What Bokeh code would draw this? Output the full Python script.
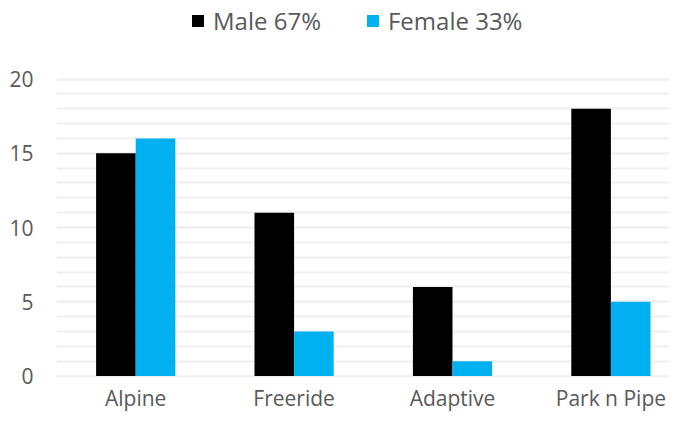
import numpy as np
from bokeh.plotting import figure
from bokeh.models import (ColumnDataSource, Range1d, FixedTicker, SingleIntervalTicker,
                          Legend, LegendItem)
from bokeh.embed import file_html
from bokeh.resources import INLINE

categories = ["Alpine", "Freeride", "Adaptive", "Park n Pipe"]
male = [15, 11, 6, 18]
female = [16, 3, 1, 5]
series_labels = ["Male 67%", "Female 33%"]
series_colors = ["#000000", "#00B0F0"]
y_ticks_interval = 5
y_max = 20

FONT = "Open Sans"
TEXT = "#595959"
GRID = "#f0f0f0"

centers = np.arange(len(categories)) + 0.5
bar_w = 0.25
src = ColumnDataSource(dict(
    xm=centers - bar_w / 2, xf=centers + bar_w / 2,
    male=male, female=female, cat=categories,
))

p = figure(width=669, height=414, output_backend="svg", toolbar_location=None,
           x_range=Range1d(0, 3.87), y_range=Range1d(-0.1, 25.29),
           min_border_left=56, min_border_right=0, min_border_top=0,
           min_border_bottom=35)
p.outline_line_color = None
p.background_fill_color = "white"

r1 = p.vbar(x="xm", top="male", width=bar_w, bottom=0, source=src,
            fill_color=series_colors[0], line_color=None)
r2 = p.vbar(x="xf", top="female", width=bar_w, bottom=0, source=src,
            fill_color=series_colors[1], line_color=None)

# axes
p.xaxis.ticker = FixedTicker(ticks=list(centers))
p.xaxis.major_label_overrides = {float(c): n for c, n in zip(centers, categories)}
p.yaxis.ticker = SingleIntervalTicker(interval=y_ticks_interval, num_minor_ticks=5)
p.yaxis.bounds = (0, y_max)
for ax in (p.xaxis, p.yaxis):
    ax.axis_line_color = None
    ax.major_tick_line_color = None
    ax.minor_tick_line_color = None
    ax.major_tick_out = 0
    ax.major_tick_in = 0
    ax.minor_tick_out = 0
    ax.major_label_text_font = FONT
    ax.major_label_text_font_size = "21px"
    ax.major_label_text_color = TEXT
p.yaxis.major_label_standoff = 23
p.xaxis.major_label_standoff = 6

p.xgrid.grid_line_color = None
p.ygrid.bounds = (0, y_max)
p.ygrid.grid_line_color = GRID
p.ygrid.grid_line_width = 2
p.ygrid.minor_grid_line_color = GRID
p.ygrid.minor_grid_line_width = 2

legend = Legend(items=[LegendItem(label=series_labels[0], renderers=[r1]),
                       LegendItem(label=series_labels[1], renderers=[r2])],
                orientation="horizontal", location=(134, 340), padding=0,
                spacing=44, label_standoff=8, glyph_width=15, glyph_height=15,
                border_line_color=None, background_fill_alpha=0,
                label_text_font=FONT, label_text_font_size="24px",
                label_text_color=TEXT, margin=0)
p.add_layout(legend, "center")

open("out.html", "w").write(file_html(p, INLINE))
